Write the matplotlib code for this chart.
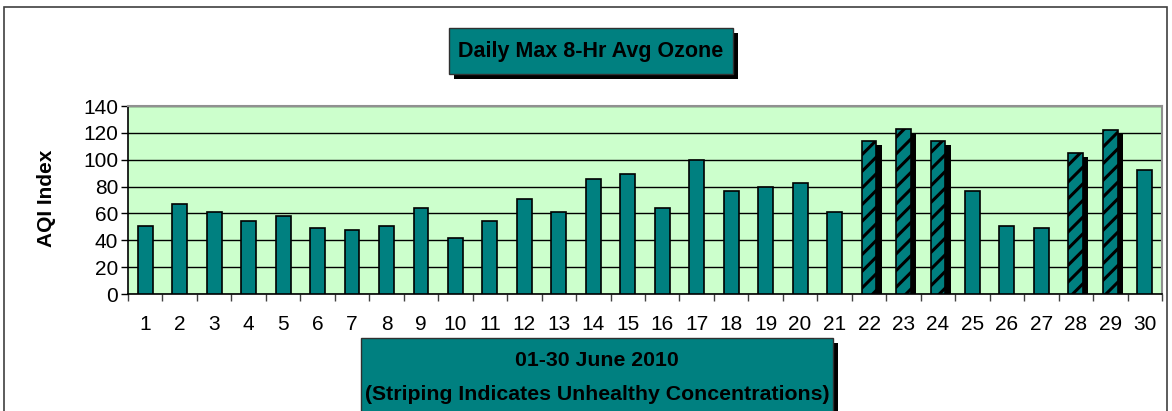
import matplotlib
matplotlib.use("Agg")
import matplotlib.pyplot as plt
from matplotlib.patches import Rectangle
import numpy as np

plt.rcParams['font.family'] = ['Liberation Sans', 'DejaVu Sans']
plt.rcParams['hatch.linewidth'] = 2.2

days = list(range(1, 31))
aqi = [51, 67, 61, 54, 58, 49, 48, 51, 64, 42,
       54, 71, 61, 86, 89, 64, 100, 77, 80, 83,
       61, 114, 123, 114, 77, 51, 49, 105, 122, 92]
unhealthy = [v > 100 for v in aqi]

W, H = 1172, 411
fig = plt.figure(figsize=(W / 100, H / 100), dpi=100)

def px(x, y, w, h):
    # pixel box (top-left origin) -> figure fraction
    return (x / W, 1 - (y + h) / H, w / W, h / H)

# outer border
bx, by, bw, bh = px(4, 7, 1163, 410)
fig.patches.append(Rectangle((bx, by), bw, bh, transform=fig.transFigure,
                             fill=False, edgecolor='#404040', lw=1.2))

ax = fig.add_axes(px(128, 106, 1034, 188))
ax.set_facecolor('#CCFFCC')

x = np.array(days)
vals = np.array(aqi)
hatched = np.array(unhealthy)
teal = '#008080'

# drop shadows for hatched bars
ax.bar(x[hatched] + 0.15, vals[hatched] - 3, width=0.43, color='black', zorder=2)
ax.bar(x[~hatched], vals[~hatched], width=0.43, color=teal,
       edgecolor='black', lw=1.2, zorder=3)
ax.bar(x[hatched], vals[hatched], width=0.43, color=teal,
       edgecolor='black', lw=1.2, hatch='//', zorder=3)

ax.set_xlim(0.5, 30.5)
ax.set_ylim(0, 140)
ax.set_yticks(range(0, 141, 20))
ax.yaxis.grid(True, color='black', lw=1)
ax.set_axisbelow(True)

ax.set_xticks(days)
ax.set_xticklabels([str(d) for d in days])
ax.set_xticks(np.arange(0.5, 31, 1), minor=True)
ax.tick_params(axis='x', which='major', length=0, pad=15, labelsize=15)
ax.tick_params(axis='x', which='minor', length=5, width=1, direction='out', color='#404040')
ax.tick_params(axis='y', length=5, width=1, pad=2, labelsize=15)

for s in ['top', 'right']:
    ax.spines[s].set_color('#909090')
    ax.spines[s].set_linewidth(1.5)
for s in ['left', 'bottom']:
    ax.spines[s].set_color('black')
    ax.spines[s].set_linewidth(1.2)

fig.text(47 / W, 1 - 198 / H, 'AQI Index', rotation=90, ha='center', va='center',
         fontsize=15, fontweight='bold')

# boxes with drop shadow
def shadow_box(x0, y0, w, h, off=5):
    sx, sy, sw, sh = px(x0 + off, y0 + off, w, h)
    fig.patches.append(Rectangle((sx, sy), sw, sh, transform=fig.transFigure,
                                 facecolor='black', edgecolor='none', zorder=1))
    rx, ry, rw, rh = px(x0, y0, w, h)
    fig.patches.append(Rectangle((rx, ry), rw, rh, transform=fig.transFigure,
                                 facecolor=teal, edgecolor='#303030', lw=1, zorder=2))

shadow_box(449, 28, 284, 46)
fig.text(591 / W, 1 - 51 / H, 'Daily Max 8-Hr Avg Ozone', ha='center', va='center',
         fontsize=15.5, fontweight='bold')

shadow_box(361, 338, 472, 90)
fig.text(597 / W, 1 - 360 / H, '01-30 June 2010', ha='center', va='center',
         fontsize=15.3, fontweight='bold')
fig.text(597 / W, 1 - 394 / H, '(Striping Indicates Unhealthy Concentrations)',
         ha='center', va='center', fontsize=15.3, fontweight='bold')

fig.savefig('out.png', dpi=100)
